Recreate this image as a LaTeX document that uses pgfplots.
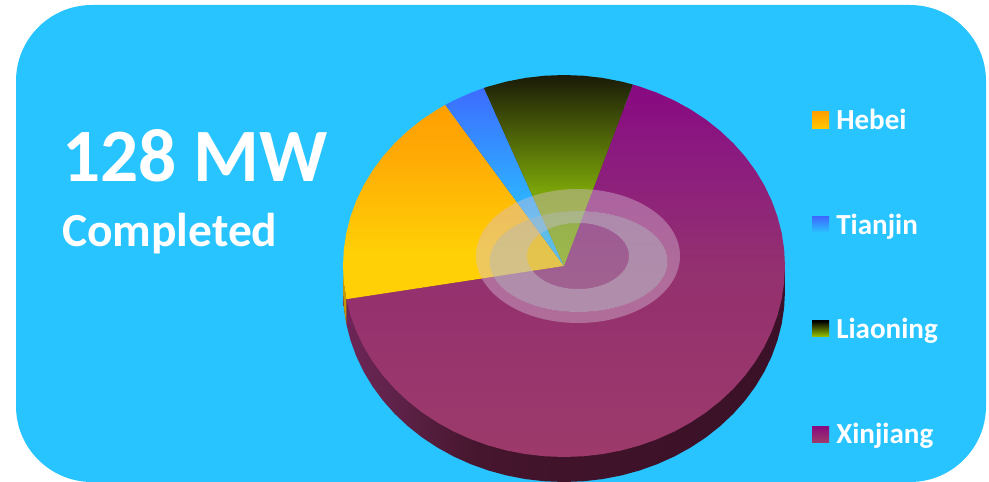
\documentclass[border=0pt]{standalone}
\usepackage{pgfplots}
\pgfplotsset{compat=1.18}
\usepackage{fontspec}
\setmainfont{Carlito}

\definecolor{panel}{HTML}{28C4FF}
\definecolor{heA}{HTML}{FFA000}\definecolor{heB}{HTML}{FFD005}\definecolor{heM}{HTML}{FFA905}
\definecolor{tiA}{HTML}{3D6CFF}\definecolor{tiB}{HTML}{29C5FF}
\definecolor{liA}{HTML}{1A1A08}\definecolor{liB}{HTML}{7AA308}\definecolor{liC}{HTML}{92C000}
\definecolor{xiA}{HTML}{880880}\definecolor{xiB}{HTML}{8B1A80}\definecolor{xiC}{HTML}{93306F}\definecolor{xiD}{HTML}{9D3A6B}
\definecolor{sdA}{HTML}{6E2658}\definecolor{sdB}{HTML}{5E2248}\definecolor{sdC}{HTML}{46162E}\definecolor{sdD}{HTML}{40132A}\definecolor{sdE}{HTML}{3A1128}

% Vertical fills: the path's box spans 25bp (bottom) to 75bp (top)
\pgfdeclareverticalshading{hebeifill}{100bp}{color(0bp)=(heB);color(37bp)=(heB);color(63bp)=(heM);color(75bp)=(heA);color(100bp)=(heA)}
\pgfdeclareverticalshading{tianjinfill}{100bp}{color(0bp)=(tiB);color(35bp)=(tiB);color(75bp)=(tiA);color(100bp)=(tiA)}
\pgfdeclareverticalshading{liaoningfill}{100bp}{color(0bp)=(liC);color(25bp)=(liC);color(45bp)=(liB);color(75bp)=(liA);color(100bp)=(liA)}
\pgfdeclareverticalshading{xinjiangfill}{100bp}{color(0bp)=(xiD);color(25bp)=(xiD);color(51bp)=(xiC);color(66bp)=(xiB);color(75bp)=(xiA);color(100bp)=(xiA)}
\pgfdeclarehorizontalshading{sidefill}{100bp}{color(0bp)=(sdA);color(25bp)=(sdA);color(31bp)=(sdB);color(40bp)=(sdC);color(50bp)=(sdD);color(75bp)=(sdE);color(100bp)=(sdE)}

\begin{document}
\begin{tikzpicture}
% Rounded panel, in pixel units from the top-left corner
\begin{scope}[x=0.75pt,y=-0.75pt]
  \path (0,0) rectangle (989,482);
  \fill[panel,rounded corners=57pt] (16,5) rectangle (986,482);
\end{scope}

% One axis unit is the pie's radius: 221 px across and 191 px up
\begin{axis}[
  at={(0pt,0pt)},anchor=north west,
  x=165.75pt,y=143.25pt,
  xmin=-2.5520,xmax=1.9231,
  ymin=-1.1309,ymax=1.3927,
  hide axis,clip=true,
]
% Rim of the pie: the same disc lowered by the thickness
\addplot[draw=none,shade,shading=sidefill,data cs=polar,yshift=-18.75pt] coordinates {
 (0,1)(10,1)(20,1)(30,1)(40,1)(50,1)(60,1)(70,1)(80,1)(90,1)(100,1)(110,1)(120,1)(130,1)(140,1)(150,1)(160,1)(170,1)
 (180,1)(185,1)(190,1)(195,1)(200,1)(205,1)(210,1)(215,1)(220,1)(225,1)(230,1)(235,1)(240,1)(245,1)(250,1)(255,1)(260,1)(265,1)
 (270,1)(275,1)(280,1)(285,1)(290,1)(295,1)(300,1)(305,1)(310,1)(315,1)(320,1)(325,1)(330,1)(335,1)(340,1)(345,1)(350,1)(355,1)
} -- cycle;
% Joins between the face and the lowered disc at both ends
\addplot[draw=none,fill=sdE] coordinates {(0.9,0)(1,0)(1,-0.131)(0.9,-0.131)} -- cycle;
\addplot[draw=none,fill=sdA] coordinates {(-0.9,-0.1)(-0.985,-0.174)(-0.985,-0.305)(-0.9,-0.3)} -- cycle;
\addplot[draw=none,fill={rgb,255:red,192;green,154;blue,0}] coordinates {(-1,0)(-0.996,-0.087)(-0.985,-0.174)(-0.985,-0.305)(-0.996,-0.218)(-1,-0.131)} -- cycle;

% Sectors as (angle, radius); each spans 360 deg x MW / 128
% Xinjiang, 86 MW
\addplot[draw=none,shade,shading=xinjiangfill,data cs=polar] coordinates {
 (0,0)(190,1)(195,1)(200,1)(205,1)(210,1)(215,1)(220,1)(225,1)(230,1)(235,1)(240,1)(245,1)(250,1)(255,1)(260,1)(265,1)
 (270,1)(275,1)(280,1)(285,1)(290,1)(295,1)(300,1)(305,1)(310,1)(315,1)(320,1)(325,1)(330,1)(335,1)(340,1)(345,1)(350,1)(355,1)
 (360,1)(365,1)(370,1)(375,1)(380,1)(385,1)(390,1)(395,1)(400,1)(405,1)(410,1)(415,1)(420,1)(425,1)(430,1)(431.85,1)
} -- cycle;
% Hebei, 24 MW
\addplot[draw=none,shade,shading=hebeifill,data cs=polar] coordinates {
 (0,0)(122.5,1)(125,1)(130,1)(135,1)(140,1)(145,1)(150,1)(155,1)(160,1)(165,1)(170,1)(175,1)(180,1)(185,1)(190,1)
} -- cycle;
% Tianjin, 4 MW
\addplot[draw=none,shade,shading=tianjinfill,data cs=polar] coordinates {
 (0,0)(111.25,1)(115,1)(120,1)(122.5,1)
} -- cycle;
% Liaoning, 14 MW
\addplot[draw=none,shade,shading=liaoningfill,data cs=polar] coordinates {
 (0,0)(71.85,1)(75,1)(80,1)(85,1)(90,1)(95,1)(100,1)(105,1)(110,1)(111.25,1)
} -- cycle;
\end{axis}

\begin{scope}[x=0.75pt,y=-0.75pt]
  % Translucent rings over the middle of the pie
  \fill[even odd rule,fill={rgb,255:red,215;green,190;blue,215},fill opacity=0.42]
    (578,256) ellipse [x radius=102,y radius=67]
    (578.5,261.5) ellipse [x radius=89,y radius=50.5];
  \fill[even odd rule,fill={rgb,255:red,190;green,187;blue,200},fill opacity=0.67]
    (578.5,261.5) ellipse [x radius=89,y radius=50.5]
    (578,256) ellipse [x radius=51,y radius=33];
  \fill[fill={rgb,255:red,182;green,178;blue,203},fill opacity=0.37]
    (578,256) ellipse [x radius=51,y radius=33];

  % Headline
  \node[anchor=base west,inner sep=0pt,text=white,font=\bfseries\fontsize{56.5}{56.5}\selectfont] at (62,182) {128 MW};
  \node[anchor=base west,inner sep=0pt,text=white,font=\bfseries\fontsize{35.6}{35.6}\selectfont] at (62,247) {Completed};

  % Key
  \shade[top color=heA,bottom color={rgb,255:red,255;green,200;blue,0}] (812,112) rectangle (829,129);
  \shade[top color=tiA,bottom color=tiB] (812,217) rectangle (829,233);
  \shade[top color=black,bottom color={rgb,255:red,154;green,200;blue,0}] (812,321) rectangle (829,337);
  \shade[top color=xiA,bottom color=xiD] (812,426) rectangle (829,442);
  \foreach \name/\base in {Hebei/129.5,Tianjin/234.5,Liaoning/338.5,Xinjiang/443.5}
    \node[anchor=base west,inner sep=0pt,text=white,font=\bfseries\fontsize{21.8}{21.8}\selectfont] at (836,\base) {\name};
\end{scope}
\end{tikzpicture}
\end{document}
